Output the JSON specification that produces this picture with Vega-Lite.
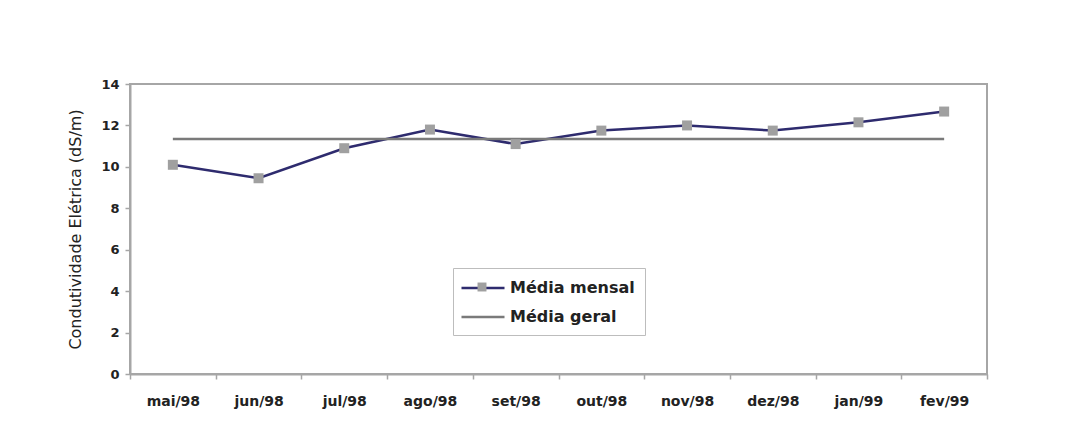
{
  "$schema": "https://vega.github.io/schema/vega-lite/v6.json",
  "width": 857,
  "height": 290,
  "autosize": {"type": "none"},
  "padding": {"left": 130, "top": 84, "right": 87, "bottom": 70},
  "background": "white",
  "config": {
    "view": {"stroke": "#a6a6a6", "strokeWidth": 2},
    "font": "DejaVu Sans"
  },
  "data": {
    "values": [
      {"mes": "mai/98", "serie": "Média mensal", "marcador": "Média mensal", "valor": 10.1},
      {"mes": "jun/98", "serie": "Média mensal", "marcador": "Média mensal", "valor": 9.45},
      {"mes": "jul/98", "serie": "Média mensal", "marcador": "Média mensal", "valor": 10.9},
      {"mes": "ago/98", "serie": "Média mensal", "marcador": "Média mensal", "valor": 11.8},
      {"mes": "set/98", "serie": "Média mensal", "marcador": "Média mensal", "valor": 11.1},
      {"mes": "out/98", "serie": "Média mensal", "marcador": "Média mensal", "valor": 11.75},
      {"mes": "nov/98", "serie": "Média mensal", "marcador": "Média mensal", "valor": 12.0},
      {"mes": "dez/98", "serie": "Média mensal", "marcador": "Média mensal", "valor": 11.75},
      {"mes": "jan/99", "serie": "Média mensal", "marcador": "Média mensal", "valor": 12.15},
      {"mes": "fev/99", "serie": "Média mensal", "marcador": "Média mensal", "valor": 12.67},
      {"mes": "mai/98", "serie": "Média geral", "valor": 11.35},
      {"mes": "jun/98", "serie": "Média geral", "valor": 11.35},
      {"mes": "jul/98", "serie": "Média geral", "valor": 11.35},
      {"mes": "ago/98", "serie": "Média geral", "valor": 11.35},
      {"mes": "set/98", "serie": "Média geral", "valor": 11.35},
      {"mes": "out/98", "serie": "Média geral", "valor": 11.35},
      {"mes": "nov/98", "serie": "Média geral", "valor": 11.35},
      {"mes": "dez/98", "serie": "Média geral", "valor": 11.35},
      {"mes": "jan/99", "serie": "Média geral", "valor": 11.35},
      {"mes": "fev/99", "serie": "Média geral", "valor": 11.35}
    ]
  },
  "encoding": {
    "x": {
      "field": "mes",
      "type": "ordinal",
      "sort": null,
      "scale": {"paddingInner": 0, "paddingOuter": 0},
      "axis": {
        "title": null,
        "labelAngle": 0,
        "labelFont": "DejaVu Sans",
        "labelFontWeight": "bold",
        "labelFontSize": 14,
        "labelColor": "#222222",
        "labelPadding": 15,
        "tickBand": "extent",
        "tickSize": 5,
        "tickColor": "#a6a6a6",
        "tickWidth": 1.5,
        "domainColor": "#a6a6a6",
        "domainWidth": 2,
        "grid": false
      }
    },
    "y": {
      "field": "valor",
      "type": "quantitative",
      "scale": {"domain": [0, 14], "nice": false, "zero": true},
      "axis": {
        "title": "Condutividade Elétrica (dS/m)",
        "titleFont": "DejaVu Sans",
        "titleFontWeight": "normal",
        "titleFontSize": 16,
        "titleColor": "#222222",
        "titlePadding": 17,
        "values": [0, 2, 4, 6, 8, 10, 12, 14],
        "labelFont": "DejaVu Sans",
        "labelFontWeight": "bold",
        "labelFontSize": 13,
        "labelColor": "#222222",
        "labelPadding": 6,
        "tickSize": 5,
        "tickColor": "#a6a6a6",
        "tickWidth": 1.5,
        "domainColor": "#a6a6a6",
        "domainWidth": 2,
        "grid": false
      }
    }
  },
  "layer": [
    {
      "mark": {"type": "line", "strokeWidth": 2.5},
      "encoding": {
        "color": {
          "field": "serie",
          "type": "nominal",
          "scale": {"domain": ["Média mensal", "Média geral"], "range": ["#2e2b6e", "#7a7a7a"]},
          "legend": {
            "title": null,
            "orient": "none",
            "legendX": 323,
            "legendY": 184,
            "strokeColor": "#bdbdbd",
            "padding": 10,
            "rowPadding": 11,
            "symbolType": "M-2.5,0H2.5",
            "symbolSize": 296,
            "symbolOffset": 10,
            "symbolStrokeWidth": 2.5,
            "labelFont": "DejaVu Sans",
            "labelFontWeight": "bold",
            "labelFontSize": 16,
            "labelColor": "#222222",
            "labelOffset": 17
          }
        }
      }
    },
    {
      "transform": [{"filter": "datum.serie === 'Média mensal'"}],
      "mark": {"type": "point", "shape": "square", "filled": true, "size": 100, "opacity": 1},
      "encoding": {
        "fill": {
          "field": "marcador",
          "type": "nominal",
          "scale": {"domain": ["Média mensal"], "range": ["#a0a0a0"]},
          "legend": {
            "title": null,
            "orient": "none",
            "legendX": 323,
            "legendY": 184,
            "padding": 10,
            "rowPadding": 11,
            "symbolType": "M-0.52,-0.52H0.52V0.52H-0.52Z",
            "symbolSize": 296,
            "symbolOffset": 10,
            "symbolStrokeWidth": 0,
            "symbolOpacity": 1,
            "labelFont": "DejaVu Sans",
            "labelFontWeight": "bold",
            "labelFontSize": 16,
            "labelColor": "transparent",
            "labelOffset": 17
          }
        }
      }
    }
  ]
}
